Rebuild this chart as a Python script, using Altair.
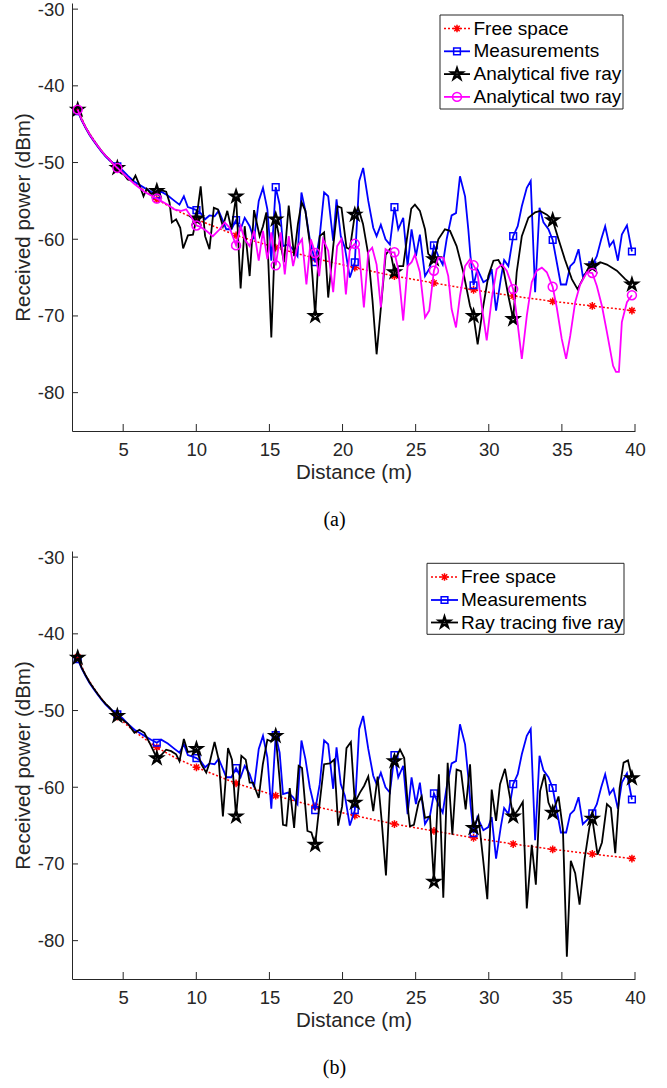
import altair as alt
import pandas as pd

# ---------------- data ----------------
MARK_X = [1.89, 4.60, 7.30, 10.01, 12.72, 15.43, 18.13, 20.84, 23.55, 26.25,
          28.96, 31.67, 34.37, 37.08, 39.79]

FREE_X = [1.89, 2.43, 3.25, 3.79, 4.60, 5.50, 6.40, 7.30, 8.60, 10.01, 12.72, 15.43,
          18.13, 20.84, 23.55, 26.25, 28.96, 31.67, 34.37, 37.08, 39.79]
FREE_Y = [-43.0, -45.4, -47.8, -49.1, -50.8, -52.3, -53.6, -54.8, -56.2, -57.4, -59.5, -61.1,
          -62.5, -63.7, -64.8, -65.7, -66.6, -67.4, -68.1, -68.7, -69.3]
FREE_MK = [-43.0, -50.8, -54.8, -57.4, -59.5, -61.1, -62.5, -63.7, -64.8, -65.7,
           -66.6, -67.4, -68.1, -68.7, -69.3]

MEAS_X = [1.89, 2.16, 2.43, 2.70, 2.98, 3.25, 3.52, 3.79, 4.06, 4.33,
          4.60, 4.95, 5.31, 5.77, 6.11, 6.45, 6.91, 7.30, 7.60, 8.05,
          8.51, 8.85, 9.15, 9.42, 9.76, 10.01, 10.30, 10.60, 10.90, 11.25,
          11.53, 11.82, 12.05, 12.40, 12.72, 13.03, 13.31, 13.65, 13.95, 14.27,
          14.56, 14.86, 15.13, 15.43, 15.70, 15.93, 16.28, 16.62, 16.92, 17.19,
          17.46, 17.76, 18.13, 18.44, 18.74, 19.02, 19.36, 19.59, 19.88, 20.16,
          20.50, 20.84, 21.14, 21.41, 21.76, 22.10, 22.33, 22.62, 22.94, 23.24,
          23.55, 23.81, 24.15, 24.45, 24.72, 25.02, 25.29, 25.64, 25.98, 26.25,
          26.55, 26.85, 27.12, 27.46, 27.76, 28.03, 28.38, 28.60, 28.75, 28.96,
          29.22, 29.63, 29.97, 30.20, 30.50, 30.82, 31.05, 31.34, 31.67, 31.98,
          32.26, 32.60, 32.87, 33.17, 33.47, 33.74, 34.08, 34.37, 34.65, 34.93,
          35.29, 35.57, 35.84, 36.14, 36.43, 36.82, 37.08, 37.39, 37.69, 37.96,
          38.26, 38.53, 38.83, 39.10, 39.45, 39.79]
MEAS_Y = [-43.3, -44.5, -45.5, -46.4, -47.2, -47.9, -48.6, -49.2, -49.7, -50.1,
          -50.5, -51.0, -51.7, -52.5, -52.9, -53.3, -53.8, -54.2, -53.8, -54.3,
          -55.0, -55.5, -54.4, -55.8, -56.0, -56.2, -56.6, -57.4, -56.9, -57.0,
          -56.3, -57.6, -58.7, -58.7, -57.5, -58.7, -57.2, -58.3, -60.0, -55.0,
          -53.3, -56.1, -62.8, -53.2, -55.5, -60.9, -60.7, -61.3, -62.2, -53.9,
          -56.3, -60.0, -63.0, -59.6, -53.9, -54.4, -60.2, -54.8, -59.6, -61.1,
          -65.0, -63.0, -52.4, -50.7, -55.0, -58.5, -59.6, -58.1, -60.0, -60.7,
          -55.8, -58.7, -57.2, -63.5, -58.7, -62.2, -59.4, -64.8, -63.7, -60.8,
          -62.2, -63.3, -60.0, -56.9, -56.6, -51.8, -54.4, -58.7, -62.2, -66.0,
          -63.9, -65.6, -65.2, -63.9, -69.3, -65.2, -62.7, -63.5, -59.6, -58.3,
          -55.7, -53.3, -52.4, -66.9, -55.9, -57.8, -58.7, -60.1, -63.0, -65.9,
          -65.9, -63.5, -63.0, -61.3, -64.8, -64.1, -63.4, -62.2, -60.0, -58.3,
          -60.9, -60.2, -62.8, -59.4, -58.2, -61.6]
MEAS_MK = [-43.3, -50.5, -54.2, -56.2, -57.5, -53.2, -63.0, -63.0, -55.8, -60.8,
           -66.0, -59.6, -60.1, -63.4, -61.6]

A5_X = [1.89, 2.16, 2.43, 2.70, 2.98, 3.25, 3.52, 3.79, 4.06, 4.33,
        4.60, 4.95, 5.31, 5.65, 5.84, 6.11, 6.39, 6.61, 6.91, 7.30,
        7.60, 7.94, 8.17, 8.33, 8.62, 8.90, 9.10, 9.43, 9.77, 10.01,
        10.30, 10.60, 10.90, 11.20, 11.48, 11.82, 12.12, 12.40, 12.72, 13.03,
        13.31, 13.65, 13.95, 14.33, 14.56, 14.79, 15.13, 15.43, 15.70, 16.00,
        16.32, 16.69, 16.95, 17.20, 17.46, 17.76, 17.95, 18.13, 18.44, 18.74,
        19.02, 19.36, 19.66, 19.93, 20.27, 20.50, 20.84, 21.07, 21.40, 21.76,
        22.05, 22.33, 22.62, 22.95, 23.24, 23.55, 23.85, 24.15, 24.40, 24.70,
        24.95, 25.29, 25.64, 25.86, 26.25, 26.55, 27.00, 27.35, 27.80, 28.26,
        28.72, 28.96, 29.24, 29.59, 29.97, 30.32, 30.66, 31.00, 31.34, 31.67,
        31.91, 32.26, 32.71, 33.17, 33.51, 33.97, 34.37, 34.77, 35.20, 35.68,
        36.07, 36.48, 36.82, 37.08, 37.62, 38.08, 38.76, 39.33, 39.79]
A5_Y = [-43.1, -44.4, -45.4, -46.3, -47.1, -47.8, -48.5, -49.1, -49.6, -50.2,
        -50.7, -51.3, -52.2, -52.4, -51.7, -52.9, -54.4, -53.4, -54.1, -53.7,
        -53.6, -53.8, -55.2, -57.8, -57.4, -58.5, -61.2, -59.5, -59.4, -57.3,
        -53.1, -59.6, -61.3, -55.9, -56.1, -58.3, -56.3, -58.7, -54.4, -66.4,
        -58.3, -64.8, -56.2, -59.6, -58.3, -56.5, -72.8, -57.4, -60.0, -63.0,
        -55.6, -62.2, -58.0, -55.2, -56.3, -60.5, -65.0, -70.0, -59.6, -59.1,
        -67.6, -61.0, -55.7, -55.9, -61.1, -61.3, -56.8, -55.9, -58.0, -62.0,
        -68.0, -75.0, -69.0, -62.0, -61.3, -64.3, -63.5, -63.5, -60.0, -56.0,
        -55.5, -56.3, -58.7, -61.9, -62.6, -60.0, -58.7, -58.9, -60.9, -64.3,
        -68.7, -70.0, -73.7, -69.1, -64.8, -62.8, -62.7, -63.9, -67.4, -70.4,
        -64.3, -59.6, -57.2, -56.5, -56.3, -56.8, -57.5, -60.0, -62.6, -65.2,
        -66.5, -65.0, -63.7, -63.5, -63.0, -63.3, -64.1, -65.2, -65.9]
A5_MK = [-43.1, -50.7, -53.7, -57.3, -54.4, -57.4, -70.0, -56.8, -64.3, -62.6,
         -70.0, -70.4, -57.5, -63.5, -65.9]

A2_X = [1.89, 2.16, 2.43, 2.70, 2.98, 3.25, 3.52, 3.79, 4.06, 4.33,
        4.60, 5.31, 5.77, 6.45, 7.00, 7.30, 8.05, 8.50, 8.97, 9.31,
        9.65, 10.01, 10.30, 10.68, 11.13, 11.60, 11.94, 12.28, 12.72, 13.03,
        13.31, 13.65, 13.95, 14.27, 14.56, 14.86, 15.13, 15.43, 15.77, 16.05,
        16.32, 16.62, 16.92, 17.23, 17.53, 17.83, 18.13, 18.40, 18.67, 19.02,
        19.36, 19.63, 19.93, 20.23, 20.50, 20.84, 21.12, 21.46, 21.76, 22.03,
        22.33, 22.62, 22.94, 23.24, 23.55, 23.81, 24.15, 24.45, 24.72, 24.95,
        25.29, 25.64, 25.93, 26.25, 26.55, 26.90, 27.23, 27.46, 27.76, 28.03,
        28.38, 28.72, 28.96, 29.22, 29.52, 29.86, 30.20, 30.54, 30.89, 31.23,
        31.67, 31.91, 32.26, 32.60, 32.94, 33.28, 33.63, 33.97, 34.37, 34.65,
        34.99, 35.29, 35.57, 35.91, 36.25, 36.71, 37.08, 37.39, 37.74, 38.08,
        38.50, 38.70, 38.90, 39.10, 39.45, 39.79]
A2_Y = [-43.1, -44.4, -45.4, -46.3, -47.1, -47.8, -48.5, -49.1, -49.6, -50.2,
        -50.7, -52.0, -52.8, -53.8, -54.4, -54.7, -55.5, -56.1, -56.3, -56.1,
        -57.1, -58.2, -58.4, -58.9, -59.6, -58.7, -57.8, -58.5, -60.8, -58.3,
        -60.0, -60.9, -58.9, -62.8, -58.9, -62.6, -59.1, -63.4, -59.1, -64.6,
        -59.6, -63.5, -60.9, -60.0, -65.9, -60.0, -61.8, -64.8, -60.0, -61.5,
        -66.9, -60.9, -60.0, -67.2, -61.3, -60.6, -61.3, -68.9, -61.7, -61.1,
        -63.3, -68.9, -61.3, -61.7, -61.7, -63.9, -70.6, -63.5, -63.0, -62.0,
        -64.3, -70.2, -69.3, -64.1, -62.4, -62.4, -64.8, -69.1, -71.5, -67.4,
        -63.5, -62.6, -63.4, -64.3, -68.7, -73.2, -67.8, -63.9, -63.3, -64.1,
        -66.5, -70.0, -75.6, -70.0, -65.6, -64.1, -63.7, -64.3, -66.2, -68.9,
        -73.0, -75.6, -72.6, -68.2, -65.9, -64.3, -64.4, -66.1, -68.7, -72.1,
        -76.5, -77.3, -77.3, -70.8, -68.2, -67.3]
A2_MK = [-43.1, -50.7, -54.7, -58.2, -60.8, -63.4, -61.8, -60.6, -61.7, -64.1,
         -63.4, -66.5, -66.2, -64.4, -67.3]

RT5_X = [1.89, 2.16, 2.43, 2.70, 2.98, 3.25, 3.52, 3.79, 4.06, 4.33,
         4.60, 5.31, 5.77, 6.11, 6.45, 6.91, 7.30, 7.60, 7.94, 8.28,
         8.62, 8.85, 9.15, 9.42, 9.77, 10.01, 10.34, 10.68, 10.91, 11.25,
         11.53, 11.82, 12.17, 12.44, 12.72, 13.08, 13.38, 13.65, 13.88, 14.27,
         14.55, 14.86, 15.10, 15.43, 15.70, 15.93, 16.16, 16.39, 16.69, 17.00,
         17.23, 17.60, 17.87, 18.13, 18.44, 18.74, 19.13, 19.43, 19.70, 19.97,
         20.27, 20.57, 20.84, 21.19, 21.48, 21.76, 22.10, 22.40, 22.67, 22.97,
         23.31, 23.55, 23.93, 24.22, 24.50, 24.61, 24.88, 25.20, 25.41, 25.64,
         25.98, 26.25, 26.59, 26.89, 27.19, 27.51, 27.80, 28.10, 28.42, 28.72,
         28.96, 29.29, 29.59, 29.90, 30.20, 30.50, 30.77, 31.11, 31.41, 31.67,
         32.03, 32.33, 32.60, 32.94, 33.22, 33.51, 33.81, 34.08, 34.37, 34.77,
         35.07, 35.34, 35.61, 35.91, 36.21, 36.55, 36.89, 37.08, 37.44, 37.74,
         38.08, 38.35, 38.65, 38.95, 39.22, 39.52, 39.79]
RT5_Y = [-43.1, -44.4, -45.4, -46.3, -47.1, -47.8, -48.5, -49.1, -49.6, -50.2,
         -50.7, -51.7, -52.9, -52.5, -52.9, -54.6, -56.2, -55.8, -55.1, -55.3,
         -55.7, -56.6, -53.7, -55.4, -55.3, -55.0, -57.0, -58.1, -56.8, -54.1,
         -56.4, -63.8, -54.9, -56.4, -63.8, -55.9, -56.4, -59.4, -59.4, -61.4,
         -57.0, -53.8, -54.0, -53.3, -59.0, -64.9, -65.0, -60.1, -65.3, -57.2,
         -57.5, -65.7, -65.9, -67.5, -62.0, -57.0, -56.9, -56.4, -65.0, -62.5,
         -54.9, -54.1, -62.0, -60.7, -59.8, -58.6, -63.1, -58.6, -64.2, -71.5,
         -57.7, -56.6, -55.1, -56.2, -63.3, -65.1, -64.9, -62.0, -61.2, -64.0,
         -63.8, -72.3, -58.3, -74.4, -56.8, -66.2, -57.7, -57.9, -62.9, -57.0,
         -65.3, -63.8, -69.0, -74.6, -60.3, -64.4, -59.6, -57.6, -60.9, -63.8,
         -62.9, -61.9, -75.8, -67.5, -72.7, -60.5, -58.3, -62.0, -63.3, -61.2,
         -65.5, -82.1, -69.6, -71.2, -75.3, -69.4, -65.1, -64.1, -68.8, -67.2,
         -62.2, -62.7, -68.6, -60.1, -56.8, -56.5, -58.8]
RT5_MK = [-43.1, -50.7, -56.2, -55.0, -63.8, -53.3, -67.5, -62.0, -56.6, -72.3,
          -65.3, -63.8, -63.3, -64.1, -58.8]

X_TICKS = [5, 10, 15, 20, 25, 30, 35, 40]
Y_TICKS = [-80, -70, -60, -50, -40, -30]

# ---------------- styling ----------------
W, H = 563, 428
X_DOM = [1.5, 40]
Y_DOM = [-85, -29.2]
XS = alt.Scale(domain=X_DOM, nice=False, zero=False)
YS = alt.Scale(domain=Y_DOM, nice=False, zero=False)
FONT = "Liberation Sans"
INK = "#262626"

# marker outlines as SVG paths in the [-1, 1] box
ASTERISK = "M-1,0L1,0M0,-1L0,1M-0.7,-0.7L0.7,0.7M-0.7,0.7L0.7,-0.7"
SQUARE = "M-1,-1L1,-1L1,1L-1,1Z"
CIRCLE = "M1,0A1,1,0,1,1,-1,0A1,1,0,1,1,1,0Z"
STAR = ("M0,-1L0.225,-0.309L0.951,-0.309L0.363,0.118L0.588,0.809L0,0.382"
        "L-0.588,0.809L-0.363,0.118L-0.951,-0.309L-0.225,-0.309Z")

AXX = alt.Axis(values=X_TICKS, labelExpr="toString(datum.value)", ticks=False, tickSize=0,
               grid=False, domainColor=INK, domainWidth=1, labelFont=FONT, labelFontSize=18.5,
               labelColor=INK, labelPadding=9, labelFlush=False, title="Distance (m)",
               titleFont=FONT, titleFontSize=20.5, titleFontWeight="normal", titleColor=INK,
               titlePadding=4)
AXY = alt.Axis(values=Y_TICKS, labelExpr="toString(datum.value)", ticks=False, tickSize=0,
               grid=False, domainColor=INK, domainWidth=1, labelFont=FONT, labelFontSize=18.5,
               labelColor=INK, labelPadding=8, labelFlush=False, title="Received power (dBm)",
               titleFont=FONT, titleFontSize=20.5, titleFontWeight="normal", titleColor=INK,
               titlePadding=4)

STYLE = {
    "Free space": dict(color="#ff0000", dash=[2, 2], lw=1.5, shape=ASTERISK, size=60, filled=False, msw=1.5),
    "Measurements": dict(color="#0000ff", dash=None, lw=1.8, shape=SQUARE, size=45, filled=False, msw=1.5),
    "Analytical five ray": dict(color="#000000", dash=None, lw=1.8, shape=STAR, size=130, filled=False, msw=2.3),
    "Analytical two ray": dict(color="#ff00ff", dash=None, lw=1.8, shape=CIRCLE, size=80, filled=False, msw=1.5),
    "Ray tracing five ray": dict(color="#000000", dash=None, lw=1.8, shape=STAR, size=130, filled=False, msw=2.3),
}


def px_to_x(px):
    return X_DOM[0] + px * (X_DOM[1] - X_DOM[0]) / W


def px_to_y(py):
    return Y_DOM[1] - py * (Y_DOM[1] - Y_DOM[0]) / H


def ex(field):
    return alt.X(field, type="quantitative", scale=XS, axis=AXX)


def ey(field):
    return alt.Y(field, type="quantitative", scale=YS, axis=AXY)


def line_kw(st):
    kw = dict(color=st["color"], strokeWidth=st["lw"])
    if st["dash"]:
        kw["strokeDash"] = st["dash"]
    return kw


def point_kw(st):
    return dict(shape=st["shape"], size=st["size"], filled=st["filled"],
                color=st["color"], strokeWidth=st["msw"], opacity=1)


def series(name, xs, ys, mk):
    st = STYLE[name]
    df = pd.DataFrame({"d": xs, "p": ys})
    mdf = pd.DataFrame({"d": MARK_X, "p": mk})
    line = alt.Chart(df).mark_line(**line_kw(st)).encode(x=ex("d"), y=ey("p"))
    pts = alt.Chart(mdf).mark_point(**point_kw(st)).encode(x=ex("d"), y=ey("p"))
    return [line, pts]


def axes():
    xt = alt.Chart(pd.DataFrame({"t": X_TICKS})).mark_rule(color=INK, strokeWidth=1).encode(
        x=ex("t"), y=alt.value(H), y2=alt.value(H - 7))
    yt = alt.Chart(pd.DataFrame({"t": Y_TICKS})).mark_rule(color=INK, strokeWidth=1).encode(
        y=ey("t"), x=alt.value(0), x2=alt.value(6))
    return [xt, yt]


def legend(names, box, rows, lx1, lx2, mx, tx):
    bdf = pd.DataFrame({"bx": [px_to_x(box[0])], "bx2": [px_to_x(box[2])],
                        "by": [px_to_y(box[1])], "by2": [px_to_y(box[3])]})
    out = [alt.Chart(bdf).mark_rect(fill="white", stroke=INK, strokeWidth=1).encode(
        x=ex("bx"), x2="bx2:Q", y=ey("by"), y2="by2:Q")]
    for name, yc in zip(names, rows):
        st = STYLE[name]
        d = pd.DataFrame({"name": [name], "lx1": [px_to_x(lx1)], "lx2": [px_to_x(lx2)],
                          "mx": [px_to_x(mx)], "tx": [px_to_x(tx)], "ly": [px_to_y(yc)]})
        out.append(alt.Chart(d).mark_rule(**line_kw(st)).encode(
            x=ex("lx1"), x2="lx2:Q", y=ey("ly")))
        out.append(alt.Chart(d).mark_point(**point_kw(st)).encode(x=ex("mx"), y=ey("ly")))
        out.append(alt.Chart(d).mark_text(align="left", baseline="middle", font=FONT,
                                         fontSize=19, color="black").encode(
            x=ex("tx"), y=ey("ly"), text="name:N"))
    return out


def caption(txt):
    return alt.TitleParams(txt, orient="bottom", anchor="middle", font="Liberation Serif",
                           fontSize=20, fontWeight="normal", color="black", offset=27, dx=-19)


layers_a = (axes()
            + series("Free space", FREE_X, FREE_Y, FREE_MK)
            + series("Measurements", MEAS_X, MEAS_Y, MEAS_MK)
            + series("Analytical five ray", A5_X, A5_Y, A5_MK)
            + series("Analytical two ray", A2_X, A2_Y, A2_MK)
            + legend(["Free space", "Measurements", "Analytical five ray", "Analytical two ray"],
                     (368, 12, 551, 106), [25.5, 48.3, 71.1, 93.9], 372, 398, 385, 401.5))
panel_a = alt.layer(*layers_a).properties(width=W, height=H, title=caption("(a)"))

layers_b = (axes()
            + series("Free space", FREE_X, FREE_Y, FREE_MK)
            + series("Measurements", MEAS_X, MEAS_Y, MEAS_MK)
            + series("Ray tracing five ray", RT5_X, RT5_Y, RT5_MK)
            + legend(["Free space", "Measurements", "Ray tracing five ray"],
                     (355, 12.3, 552, 83.3), [26, 49, 71.5], 359, 386, 372.5, 389))
panel_b = alt.layer(*layers_b).properties(width=W, height=H, title=caption("(b)"))

chart = (alt.vconcat(panel_a, panel_b, spacing=18)
         .properties(padding={"left": 13, "top": 0, "right": 5, "bottom": 5}, background="white")
         .configure_view(stroke=None))

chart.save("out.html", embed_options={"renderer": "svg", "actions": False})
